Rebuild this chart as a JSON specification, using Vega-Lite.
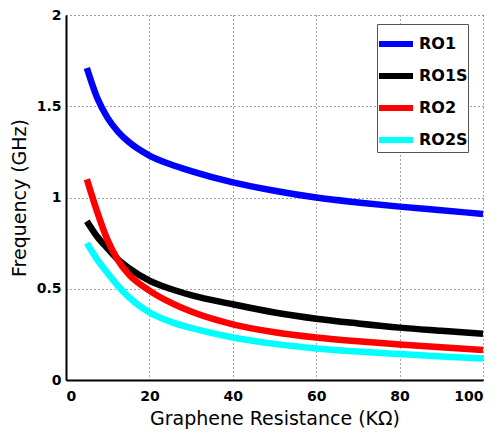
{
  "$schema": "https://vega.github.io/schema/vega-lite/v6.json",
  "autosize": {"type": "none"},
  "padding": {"left": 66, "top": 15, "right": 17, "bottom": 58},
  "width": 417,
  "height": 365,
  "background": "white",
  "config": {"view": {"stroke": null}, "font": "DejaVu Sans"},
  "data": {"values": [
    {"R":5,"f":1.71,"s":"RO1"},{"R":7.5,"f":1.545,"s":"RO1"},{"R":10,"f":1.435,"s":"RO1"},{"R":12.5,"f":1.36,"s":"RO1"},{"R":15,"f":1.305,"s":"RO1"},{"R":20,"f":1.23,"s":"RO1"},{"R":25,"f":1.182,"s":"RO1"},{"R":30,"f":1.145,"s":"RO1"},{"R":40,"f":1.083,"s":"RO1"},{"R":50,"f":1.037,"s":"RO1"},{"R":60,"f":1.0,"s":"RO1"},{"R":70,"f":0.973,"s":"RO1"},{"R":80,"f":0.95,"s":"RO1"},{"R":90,"f":0.93,"s":"RO1"},{"R":100,"f":0.91,"s":"RO1"},
    {"R":5,"f":0.87,"s":"RO1S"},{"R":7.5,"f":0.785,"s":"RO1S"},{"R":10,"f":0.72,"s":"RO1S"},{"R":12.5,"f":0.66,"s":"RO1S"},{"R":15,"f":0.615,"s":"RO1S"},{"R":20,"f":0.545,"s":"RO1S"},{"R":25,"f":0.5,"s":"RO1S"},{"R":30,"f":0.465,"s":"RO1S"},{"R":40,"f":0.415,"s":"RO1S"},{"R":50,"f":0.37,"s":"RO1S"},{"R":60,"f":0.336,"s":"RO1S"},{"R":70,"f":0.31,"s":"RO1S"},{"R":80,"f":0.287,"s":"RO1S"},{"R":90,"f":0.27,"s":"RO1S"},{"R":100,"f":0.254,"s":"RO1S"},
    {"R":5,"f":1.1,"s":"RO2"},{"R":7.5,"f":0.92,"s":"RO2"},{"R":10,"f":0.765,"s":"RO2"},{"R":12.5,"f":0.655,"s":"RO2"},{"R":15,"f":0.58,"s":"RO2"},{"R":20,"f":0.49,"s":"RO2"},{"R":25,"f":0.425,"s":"RO2"},{"R":30,"f":0.375,"s":"RO2"},{"R":40,"f":0.305,"s":"RO2"},{"R":50,"f":0.262,"s":"RO2"},{"R":60,"f":0.233,"s":"RO2"},{"R":70,"f":0.212,"s":"RO2"},{"R":80,"f":0.195,"s":"RO2"},{"R":90,"f":0.179,"s":"RO2"},{"R":100,"f":0.164,"s":"RO2"},
    {"R":5,"f":0.75,"s":"RO2S"},{"R":7.5,"f":0.66,"s":"RO2S"},{"R":10,"f":0.585,"s":"RO2S"},{"R":12.5,"f":0.515,"s":"RO2S"},{"R":15,"f":0.455,"s":"RO2S"},{"R":20,"f":0.37,"s":"RO2S"},{"R":25,"f":0.32,"s":"RO2S"},{"R":30,"f":0.285,"s":"RO2S"},{"R":40,"f":0.233,"s":"RO2S"},{"R":50,"f":0.198,"s":"RO2S"},{"R":60,"f":0.173,"s":"RO2S"},{"R":70,"f":0.156,"s":"RO2S"},{"R":80,"f":0.142,"s":"RO2S"},{"R":90,"f":0.129,"s":"RO2S"},{"R":100,"f":0.118,"s":"RO2S"}
  ]},
  "mark": {"type": "line", "strokeWidth": 6.5, "interpolate": "monotone", "strokeCap": "butt"},
  "encoding": {
    "x": {"field": "R", "type": "quantitative",
      "scale": {"domain": [0, 100], "nice": false},
      "axis": {"values": [0,20,40,60,80,100], "title": "Graphene Resistance (KΩ)",
        "titleFontSize": 19, "titleFontWeight": "normal", "titleColor": "black", "titlePadding": 6,
        "labelFontSize": 14, "labelFontWeight": "bold", "labelColor": "black", "labelPadding": 9,
        "domainColor": "black", "domainWidth": 2, "ticks": false,
        "grid": true, "gridDash": [1, 3], "gridColor": "#444", "gridWidth": 1}},
    "y": {"field": "f", "type": "quantitative",
      "scale": {"domain": [0, 2], "nice": false},
      "axis": {"values": [0,0.5,1,1.5,2], "format": "~g", "title": "Frequency (GHz)",
        "titleFontSize": 19, "titleFontWeight": "normal", "titleColor": "black", "titlePadding": 7,
        "labelFontSize": 14, "labelFontWeight": "bold", "labelColor": "black", "labelPadding": 5,
        "domainColor": "black", "domainWidth": 2, "ticks": false,
        "grid": true, "gridDash": [1, 3], "gridColor": "#444", "gridWidth": 1}},
    "color": {"field": "s", "type": "nominal",
      "scale": {"domain": ["RO1","RO1S","RO2","RO2S"], "range": ["#0000ff","#000000","#ff0000","#00ffff"]},
      "legend": {"title": null, "orient": "none", "legendX": 311, "legendY": 9,
        "symbolType": "stroke", "symbolSize": 1156, "symbolStrokeWidth": 6, "symbolOffset": -1,
        "labelFontSize": 16, "labelFontWeight": "bold", "labelColor": "black",
        "rowPadding": -5, "padding": 0, "strokeColor": "#555", "fillColor": "white",
        "labelOffset": 3}}
  }
}
